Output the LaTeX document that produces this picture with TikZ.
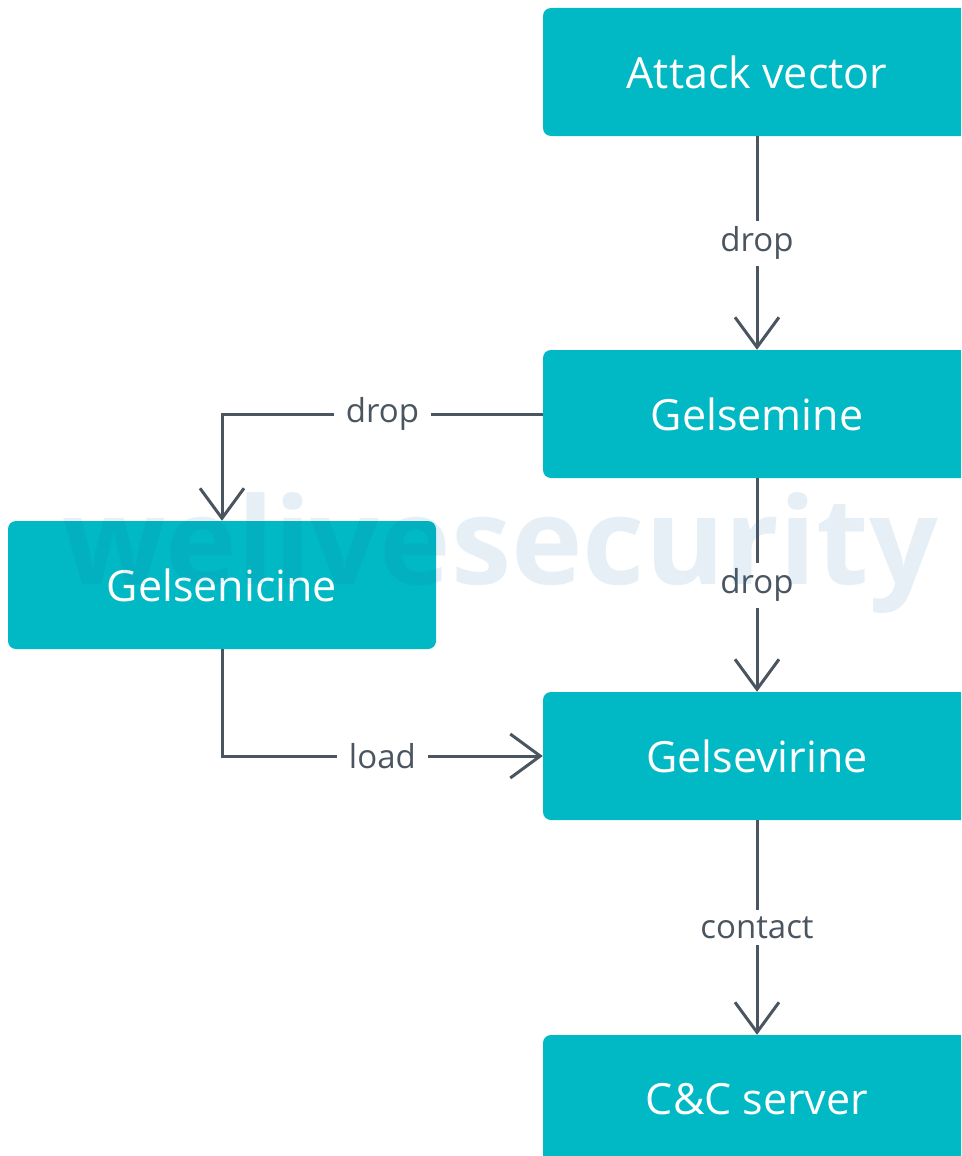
\documentclass[tikz,border=0pt]{standalone}
\usepackage{fontspec}
\setmainfont{Open Sans}
\usetikzlibrary{arrows.meta}
\definecolor{esetteal}{HTML}{00B9C4}
\definecolor{esetgray}{HTML}{4B5560}
\definecolor{esetblue}{HTML}{1E6FA8}
\tikzset{stage/.style={fill=esetteal,rounded corners=8pt,minimum width=428pt,minimum height=128pt,
                       text=white,font=\fontsize{43}{48}\selectfont},
         flow/.style={draw=esetgray,line width=3pt,
                      -{Straight Barb[length=30pt,width=44pt,line width=3pt]}},
         verb/.style={fill=white,text=esetgray,inner xsep=12pt,inner ysep=6pt,
                      font=\fontsize{33}{38}\selectfont},
         watermark/.style={text=esetblue,opacity=0.11,font=\bfseries\fontsize{121}{125}\selectfont}
         }

\begin{document}
\begin{tikzpicture}[x=1pt,y=-1pt]
\useasboundingbox (0,0) rectangle (961,1156);
\clip (0,0) rectangle (961,1156);
\node[stage] (attack) at (757,72) {Attack vector};
\node[stage] (gelsemine) at (757,414) {Gelsemine};
\node[stage] (gelsenicine) at (222,585) {Gelsenicine};
\node[stage] (gelsevirine) at (757,756) {Gelsevirine};
\node[stage] (cnc) at (757,1099) {C\&C server};
\draw[flow] (attack) -- node[verb] {drop} (gelsemine);
\draw[flow] (gelsemine.west) -| node[verb,pos=0.25] {drop} (gelsenicine.north);
\draw[flow] (gelsemine) -- node[verb] {drop} (gelsevirine);
\draw[flow] (gelsenicine.south) |- node[verb,pos=0.75] {load} (gelsevirine.west);
\draw[flow] (gelsevirine) -- node[verb] {contact} (cnc);
\node[watermark] (wmark) at (500,553) {welivesecurity};
\end{tikzpicture}
\end{document}
